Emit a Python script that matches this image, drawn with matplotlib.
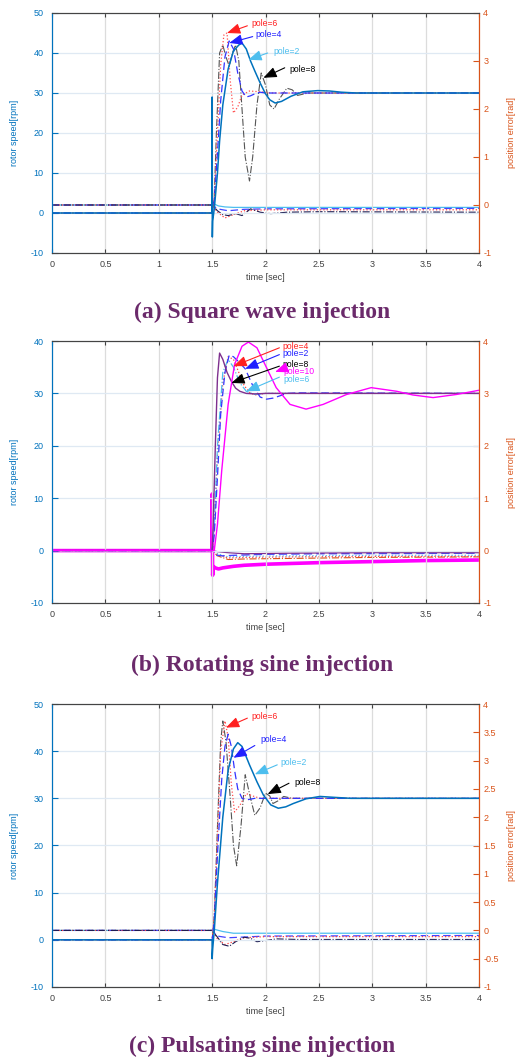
import matplotlib.pyplot as plt

plt.rcParams['font.family'] = ['Liberation Sans', 'DejaVu Sans']

BLUE = '#0072BD'
ORANGE = '#D95319'
LBLUE = '#4DBEEE'
PURPLE = '#7E2F8E'

# ---------------- (a) square wave injection ----------------
# rotor speed [rpm]
a_t2 = [0, 1.5, 1.5, 1.502, 1.505, 1.52, 1.55, 1.57, 1.6, 1.65, 1.7, 1.75, 1.78, 1.82, 1.86, 1.9, 1.95,
        2.0, 2.04, 2.09, 2.15, 2.24, 2.35, 2.49, 2.6, 2.71, 2.85, 3.0, 4.0]
a_w2 = [0, 0, 29, -6, -2, 1, 10, 18, 27, 36, 40.5, 42, 42.5, 41, 38, 35.5, 32.5,
        29.8, 28.3, 27.5, 27.9, 29.2, 30.3, 30.6, 30.5, 30.2, 30.0, 30, 30]
a_t4 = [0, 1.5, 1.52, 1.55, 1.58, 1.62, 1.66, 1.7, 1.74, 1.78, 1.82, 1.86, 1.9, 1.95, 2.0, 4.0]
a_w4 = [0, 0, 3, 15, 28, 39, 43, 41, 35, 30.5, 29, 29.3, 29.8, 30.2, 30, 30]
a_t6 = [0, 1.5, 1.52, 1.55, 1.58, 1.61, 1.64, 1.67, 1.7, 1.74, 1.78, 1.85, 1.95, 2.05, 4.0]
a_w6 = [0, 0, 4, 20, 37, 44.5, 45, 33, 25, 26.5, 29.5, 30.5, 30.3, 30, 30]
a_t8 = [0, 1.5, 1.52, 1.54, 1.57, 1.6, 1.63, 1.66, 1.69, 1.72, 1.75, 1.78, 1.81, 1.85, 1.88, 1.92, 1.96,
        2.0, 2.04, 2.08, 2.13, 2.2, 2.25, 2.3, 2.4, 4.0]
a_w8 = [0, 0, 4, 20, 40, 42, 39, 36.7, 40, 42, 38, 26, 14, 8, 14, 27, 35,
        32, 27, 26, 28.5, 31.2, 30.8, 29.4, 30, 30]
# position error [rad]
a_et2 = [0, 1.5, 1.52, 1.56, 1.62, 1.7, 1.8, 2.0, 2.5, 4.0]
a_e2 = [0, 0, 0.02, -0.02, -0.04, -0.05, -0.05, -0.05, -0.05, -0.05]
a_et4 = [0, 1.5, 1.55, 1.65, 1.8, 2.0, 4.0]
a_e4 = [0, 0, -0.08, -0.12, -0.09, -0.08, -0.07]
a_et6 = [0, 1.5, 1.55, 1.62, 1.7, 1.8, 2.0, 4.0]
a_e6 = [0, 0, -0.15, -0.27, -0.2, -0.12, -0.1, -0.1]
a_et8 = [0, 1.5, 1.55, 1.6, 1.65, 1.72, 1.78, 1.86, 1.95, 2.05, 2.2, 2.5, 4.0]
a_e8 = [0, 0, -0.12, -0.2, -0.22, -0.18, -0.22, -0.08, -0.15, -0.18, -0.15, -0.14, -0.15]

# ---------------- (b) rotating sine injection ----------------
b_t2 = [0, 1.5, 1.52, 1.55, 1.58, 1.62, 1.66, 1.7, 1.75, 1.81, 1.88, 1.95, 2.01, 2.07, 2.13, 2.2, 2.3, 4.0]
b_w2 = [0, 0, 3, 14, 26, 34, 37.3, 37, 36, 34.7, 31.5, 29.3, 28.9, 29.1, 29.5, 30, 30.1, 30]
b_t4 = [0, 1.5, 1.52, 1.55, 1.6, 1.65, 1.7, 1.75, 1.8, 1.85, 1.9, 2.0, 4.0]
b_w4 = [0, 0, 4, 18, 32, 37, 36.5, 34, 31.5, 30.2, 29.7, 30, 30]
b_t6 = [0, 1.5, 1.52, 1.55, 1.6, 1.65, 1.7, 1.76, 1.82, 1.9, 2.0, 4.0]
b_w6 = [0, 0, 5, 20, 34, 36.5, 35, 32, 30.4, 29.8, 30, 30]
b_t8 = [0, 1.5, 1.51, 1.53, 1.55, 1.57, 1.6, 1.64, 1.68, 1.72, 1.76, 1.82, 1.9, 2.0, 4.0]
b_w8 = [0, 0, 5, 20, 33, 37.7, 36.5, 34, 32.3, 31, 30.4, 30, 29.9, 30, 30]
b_t10 = [0, 1.5, 1.52, 1.55, 1.59, 1.65, 1.71, 1.78, 1.84, 1.92, 2.01, 2.1, 2.23, 2.38, 2.54, 2.76,
         2.99, 3.23, 3.38, 3.57, 3.79, 4.0]
b_w10 = [0, 0, 0, 5, 15.3, 27.9, 35.5, 39, 39.8, 38.7, 34.9, 31.1, 27.9, 27, 27.9, 29.8,
         31.1, 30.4, 29.7, 29.2, 29.8, 30.6]
b_et = [0, 1.5, 1.55, 1.65, 1.8, 2.2, 3.0, 4.0]
b_e4 = [0, 0, -0.08, -0.14, -0.13, -0.12, -0.11, -0.11]
b_e6 = [0, 0, -0.06, -0.12, -0.11, -0.1, -0.09, -0.09]
b_e8 = [0, 0, -0.02, -0.04, -0.06, -0.05, -0.04, -0.04]
b_eo = [0, 0, -0.1, -0.17, -0.16, -0.15, -0.13, -0.12]
b_et2 = [0, 1.5, 1.503, 1.51, 1.55, 1.6, 1.7, 2.0, 2.5, 4.0]
b_e2 = [0, 0, -0.4, -0.1, -0.09, -0.1, -0.09, -0.07, -0.06, -0.05]
b_et10 = [0, 1.5, 1.5, 1.505, 1.51, 1.53, 1.56, 1.6, 1.7, 1.8, 2.0, 2.5, 3.0, 3.5, 4.0]
b_e10 = [0, 0, 1.08, -0.47, -0.3, -0.33, -0.35, -0.33, -0.3, -0.28, -0.26, -0.23, -0.21, -0.19, -0.18]

# ---------------- (c) pulsating sine injection ----------------
c_t2 = [0, 1.5, 1.5, 1.505, 1.52, 1.55, 1.6, 1.65, 1.7, 1.74, 1.78, 1.85, 1.92, 1.98, 2.05, 2.12,
        2.19, 2.26, 2.38, 2.51, 2.65, 2.8, 4.0]
c_w2 = [0, 0, -4, -2, 2, 12, 26, 36, 40.5, 41.8, 41, 37.1, 33.5, 30.7, 28.6, 27.9,
        28.2, 28.9, 29.9, 30.4, 30.2, 30, 30]
c_t4 = [0, 1.5, 1.52, 1.55, 1.59, 1.62, 1.65, 1.68, 1.71, 1.74, 1.78, 1.83, 1.9, 4.0]
c_w4 = [0, 0, 4, 18, 34, 41, 43.6, 41, 36, 32, 30, 29.7, 30, 30]
c_t6 = [0, 1.5, 1.52, 1.55, 1.58, 1.62, 1.65, 1.68, 1.71, 1.76, 1.82, 1.88, 1.95, 4.0]
c_w6 = [0, 0, 5, 22, 40, 46.4, 43, 33, 27.1, 28.5, 31, 30.5, 30, 30]
c_t8 = [0, 1.5, 1.52, 1.55, 1.58, 1.6, 1.63, 1.67, 1.7, 1.73, 1.77, 1.81, 1.86, 1.9, 1.95, 2.0,
        2.04, 2.07, 2.12, 2.17, 2.25, 4.0]
c_w8 = [0, 0, 5, 24, 42, 46.4, 42, 30, 20, 15.7, 24, 35, 30, 26.4, 28, 31.1,
        30.5, 28.9, 29.5, 30.4, 30, 30]
c_et2 = [0, 1.5, 1.52, 1.6, 1.7, 2.0, 4.0]
c_e2 = [0, 0, 0.02, -0.02, -0.05, -0.05, -0.05]
c_et4 = [0, 1.5, 1.55, 1.65, 2.0, 4.0]
c_e4 = [0, 0, -0.1, -0.13, -0.1, -0.09]
c_et6 = [0, 1.5, 1.55, 1.62, 1.7, 1.8, 2.0, 4.0]
c_e6 = [0, 0, -0.15, -0.25, -0.2, -0.13, -0.11, -0.11]
c_et8 = [0, 1.5, 1.55, 1.6, 1.66, 1.72, 1.8, 1.86, 1.92, 2.0, 2.1, 2.3, 4.0]
c_e8 = [0, 0, -0.12, -0.25, -0.28, -0.2, -0.12, -0.14, -0.2, -0.18, -0.15, -0.16, -0.16]

x_ticks = [0, 0.5, 1, 1.5, 2, 2.5, 3, 3.5, 4]
x_labels = ['0', '0.5', '1', '1.5', '2', '2.5', '3', '3.5', '4']
titles = ['(a) Square wave injection', '(b) Rotating sine injection', '(c) Pulsating sine injection']

W, H = 525, 1061
fig = plt.figure(figsize=(W / 100, H / 100), dpi=100)


def make_axes(top, bottom):
    ax = fig.add_axes([52 / W, 1 - bottom / H, 427 / W, (bottom - top) / H])
    ax2 = ax.twinx()
    return ax, ax2


def style(ax, ax2, ylim, yticks, rticks, rlabels):
    ax.set_xlim(0, 4)
    ax.set_ylim(*ylim)
    ax.set_yticks(yticks)
    ax.set_yticklabels([str(v) for v in yticks])
    ax.set_xticks(x_ticks)
    ax.set_xticklabels(x_labels)
    ax2.set_ylim(-1, 4)
    ax2.set_yticks(rticks)
    ax2.set_yticklabels(rlabels)
    ax.grid(axis='x', color='#dcdcdc', lw=0.9)
    ax.grid(axis='y', color='#dfe9f3', lw=0.9)
    ax.set_axisbelow(True)
    ax.tick_params(axis='x', direction='in', length=3, labelsize=6.5, colors='#404040',
                   top=True, pad=5)
    ax.tick_params(axis='y', direction='in', length=4, labelsize=6.5, colors=BLUE, pad=6)
    ax2.tick_params(axis='y', direction='in', length=4, labelsize=6.5, colors=ORANGE, pad=3)
    for a in (ax, ax2):
        a.spines['top'].set_color('#444444')
        a.spines['bottom'].set_color('#444444')
        a.spines['left'].set_color(BLUE)
        a.spines['right'].set_color(ORANGE)
    ax.set_xlabel('time [sec]', fontsize=6.5, color='#404040', labelpad=3)
    ax.set_ylabel('rotor speed[rpm]', fontsize=6.5, color=BLUE)
    ax.yaxis.set_label_coords(-0.078, 0.5)
    ax2.set_ylabel('position error[rad]', fontsize=6.5, color=ORANGE, rotation=90)
    ax2.yaxis.set_label_coords(1.066, 0.5)
    ax.set_zorder(ax2.get_zorder() + 1)
    ax.patch.set_visible(False)


def arrow(ax, text, color, txt, tail, head):
    ax.annotate('', xy=head, xytext=tail,
                arrowprops=dict(arrowstyle='-|>,head_length=0.8,head_width=0.32', color=color,
                                lw=0.8, mutation_scale=10, shrinkA=0, shrinkB=0))
    ax.text(txt[0], txt[1], text, color=color, fontsize=6.2, va='center', ha='left')


rticks_int = [-1, 0, 1, 2, 3, 4]
rlabels_int = ['-1', '0', '1', '2', '3', '4']
rticks_half = [-1, -0.5, 0, 0.5, 1, 1.5, 2, 2.5, 3, 3.5, 4]
rlabels_half = ['-1', '-0.5', '0', '0.5', '1', '1.5', '2', '2.5', '3', '3.5', '4']

# ---- panel (a)
ax, ax2 = make_axes(13, 253)
ax2.plot(a_et2, a_e2, '-', color=LBLUE, lw=0.9)
ax2.plot(a_et4, a_e4, '--', color='#4444FF', lw=0.9, dashes=(6, 3))
ax2.plot(a_et6, a_e6, ':', color='#FF4040', lw=0.9)
ax2.plot(a_et8, a_e8, '-.', color='#1a1a50', lw=0.8)
ax.plot(a_t8, a_w8, '-.', color='#555555', lw=0.8)
ax.plot(a_t6, a_w6, ':', color='#FF5050', lw=0.9)
ax.plot(a_t4, a_w4, '--', color='#3333FF', lw=0.9, dashes=(6, 3))
ax.plot(a_t2, a_w2, '-', color=BLUE, lw=1.1)
style(ax, ax2, (-10, 50), [-10, 0, 10, 20, 30, 40, 50], rticks_int, rlabels_int)
arrow(ax, 'pole=6', '#FF2020', (1.87, 47.3), (1.83, 46.8), (1.64, 45))
arrow(ax, 'pole=4', '#2020FF', (1.91, 44.6), (1.88, 44.1), (1.66, 42.5))
arrow(ax, 'pole=2', LBLUE, (2.07, 40.4), (2.02, 40), (1.84, 38.3))
arrow(ax, 'pole=8', 'black', (2.22, 36.0), (2.18, 36.3), (1.98, 33.8))

# ---- panel (b)
ax, ax2 = make_axes(341, 603)
ax2.plot(b_et, b_eo, '-.', color=ORANGE, lw=0.8)
ax2.plot(b_et, b_e4, ':', color='#FF4040', lw=0.9)
ax2.plot(b_et, b_e6, ':', color=LBLUE, lw=0.9)
ax2.plot(b_et2, b_e2, '--', color='#4444FF', lw=1.0, dashes=(6, 3))
ax2.plot(b_et, b_e8, '-', color=PURPLE, lw=0.9)
ax2.plot(b_et10, b_e10, '-', color='#FF00FF', lw=2.6)
ax.plot(b_t4, b_w4, ':', color='#FF4040', lw=0.9)
ax.plot(b_t6, b_w6, '-.', color=LBLUE, lw=0.9)
ax.plot(b_t2, b_w2, '--', color='#3333FF', lw=0.9, dashes=(6, 3))
ax.plot(b_t8, b_w8, '-', color=PURPLE, lw=1.0)
ax.plot(b_t10, b_w10, '-', color='#FF00FF', lw=1.0)
style(ax, ax2, (-10, 40), [-10, 0, 10, 20, 30, 40], rticks_int, rlabels_int)
arrow(ax, 'pole=4', '#FF2020', (2.16, 39.0), (2.13, 38.7), (1.70, 35.2))
arrow(ax, 'pole=2', '#2020FF', (2.16, 37.6), (2.13, 37.4), (1.81, 34.7))
arrow(ax, 'pole=8', 'black', (2.16, 35.5), (2.13, 35.2), (1.68, 32.0))
arrow(ax, 'pole=10', '#FF00FF', (2.17, 34.1), (2.13, 34.4), (2.09, 34.1))
arrow(ax, 'pole=6', LBLUE, (2.17, 32.7), (2.13, 33.1), (1.82, 30.4))

# ---- panel (c)
ax, ax2 = make_axes(704, 987)
ax2.plot(c_et2, c_e2, '-', color=LBLUE, lw=0.9)
ax2.plot(c_et4, c_e4, '--', color='#4444FF', lw=0.9, dashes=(6, 3))
ax2.plot(c_et6, c_e6, ':', color='#FF4040', lw=0.9)
ax2.plot(c_et8, c_e8, '-.', color='#1a1a50', lw=0.8)
ax.plot(c_t8, c_w8, '-.', color='#555555', lw=0.8)
ax.plot(c_t6, c_w6, ':', color='#FF5050', lw=0.9)
ax.plot(c_t4, c_w4, '--', color='#3333FF', lw=0.9, dashes=(6, 3))
ax.plot(c_t2, c_w2, '-', color=BLUE, lw=1.1)
style(ax, ax2, (-10, 50), [-10, 0, 10, 20, 30, 40, 50], rticks_half, rlabels_half)
arrow(ax, 'pole=6', '#FF2020', (1.87, 47.3), (1.83, 47.0), (1.63, 45.0))
arrow(ax, 'pole=4', '#2020FF', (1.95, 42.5), (1.90, 41.2), (1.70, 38.6))
arrow(ax, 'pole=2', LBLUE, (2.14, 37.7), (2.11, 37.1), (1.90, 35.1))
arrow(ax, 'pole=8', 'black', (2.27, 33.4), (2.22, 33.2), (2.02, 30.9))

for y, t in zip([312, 665, 1046], titles):
    fig.text(0.5, 1 - y / H, t, ha='center', va='center', fontsize=17, fontweight='bold',
             family='Liberation Serif', color='#6B2A6B')

fig.savefig('out.png', dpi=100)
